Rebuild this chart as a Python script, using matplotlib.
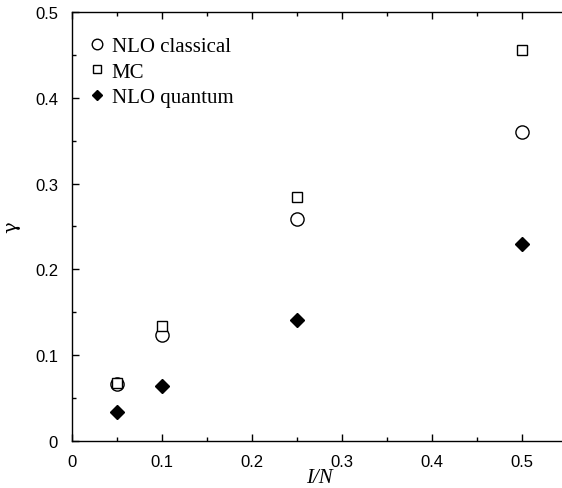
import matplotlib
matplotlib.use("Agg")
import matplotlib.pyplot as plt
from matplotlib.ticker import MultipleLocator, FuncFormatter

# 1/N values and the three gamma estimates
inv_n = [0.05, 0.1, 0.25, 0.5]
nlo_classical = [0.066, 0.123, 0.259, 0.360]
mc = [0.067, 0.134, 0.284, 0.456]
nlo_quantum = [0.033, 0.064, 0.141, 0.229]

plt.rcParams['font.family'] = ['Liberation Sans', 'DejaVu Sans']


def fmt(v, pos):
    return '0' if abs(v) < 1e-9 else f'{v:.1f}'


fig = plt.figure(figsize=(5.62, 4.89), dpi=100)
ax = fig.add_axes([0.128, 0.097, 0.881, 0.876])

ax.plot(inv_n, nlo_classical, linestyle='none', marker='o', ms=9.5,
        mfc='white', mec='black', mew=1.0, label='NLO classical')
ax.plot(inv_n, mc, linestyle='none', marker='s', ms=7.5,
        mfc='white', mec='black', mew=1.0, label='MC')
ax.plot(inv_n, nlo_quantum, linestyle='none', marker='D', ms=7,
        mfc='black', mec='black', label='NLO quantum')

ax.set_xlim(0, 0.55)
ax.set_ylim(0, 0.5)
ax.xaxis.set_major_locator(MultipleLocator(0.1))
ax.xaxis.set_minor_locator(MultipleLocator(0.05))
ax.yaxis.set_major_locator(MultipleLocator(0.1))
ax.yaxis.set_minor_locator(MultipleLocator(0.05))
ax.xaxis.set_major_formatter(FuncFormatter(fmt))
ax.yaxis.set_major_formatter(FuncFormatter(fmt))

ax.tick_params(which='both', direction='in', top=True, right=False, labelsize=12, width=1)
ax.tick_params(which='major', length=5)
ax.tick_params(which='minor', length=3)
ax.tick_params(axis='y', pad=10)
ax.tick_params(axis='x', pad=10)
for s in ax.spines.values():
    s.set_linewidth(1)

ax.set_xlabel('I/N', family='Liberation Serif', style='italic', fontsize=15)
ax.xaxis.set_label_coords(0.5, -0.063)
ax.set_ylabel('γ', family='DejaVu Serif', fontsize=14)
ax.yaxis.set_label_coords(-0.105, 0.5)

ax.legend(loc='upper left', frameon=False, prop={'family': 'Liberation Serif', 'size': 15},
          markerscale=0.8, handletextpad=0.2, handlelength=1.0, labelspacing=0.3,
          borderaxespad=0.3, bbox_to_anchor=(0.0, 0.978))

fig.savefig('out.png', dpi=100)
